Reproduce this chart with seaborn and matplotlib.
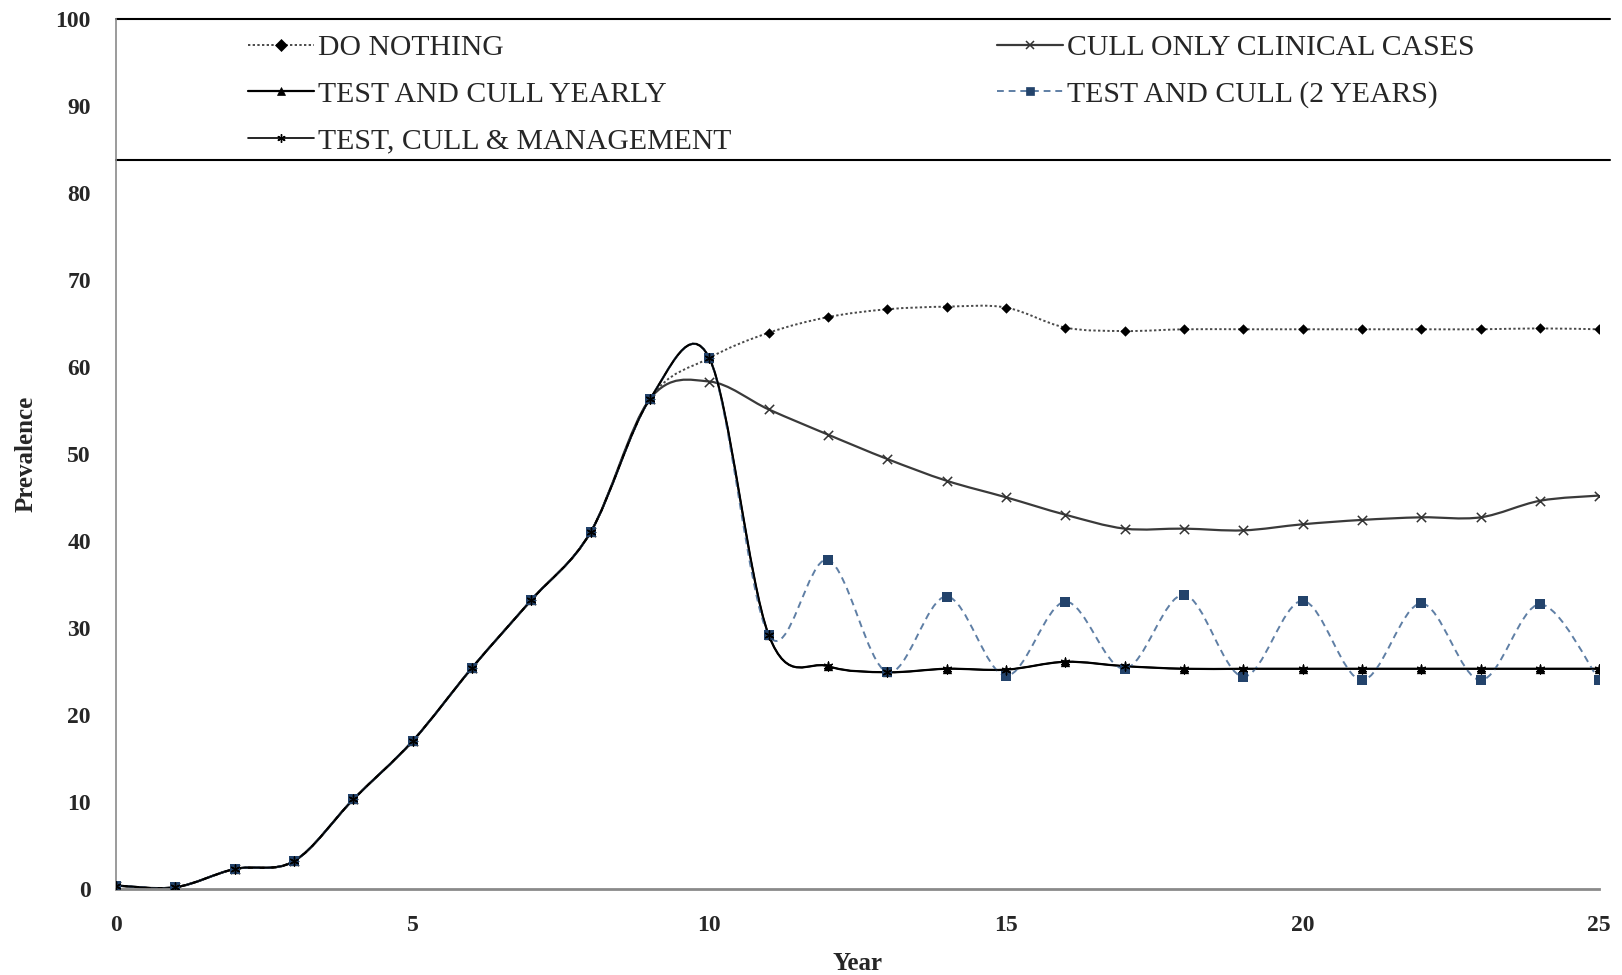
import numpy as np
import pandas as pd
import matplotlib
matplotlib.use("Agg")
import matplotlib.pyplot as plt
from matplotlib.path import Path
from matplotlib.patches import PathPatch
from matplotlib.lines import Line2D
import seaborn as sns

years = list(range(0, 26))
common = [0.4, 0.2, 2.3, 3.2, 10.3, 17.0, 25.4, 33.2, 41.0, 56.3]
do_nothing = common + [61.0, 63.9, 65.7, 66.6, 66.9, 66.8, 64.5, 64.1, 64.3, 64.3,
                       64.3, 64.3, 64.3, 64.3, 64.4, 64.3]
cull_clinical = common + [58.3, 55.1, 52.2, 49.4, 46.9, 45.0, 43.0, 41.4, 41.4, 41.2,
                          41.9, 42.4, 42.7, 42.7, 44.6, 45.2]
cull_yearly = common + [61.0, 29.2, 25.6, 24.9, 25.3, 25.2, 26.1, 25.6, 25.3, 25.3,
                        25.3, 25.3, 25.3, 25.3, 25.3, 25.3]
cull_2years = common + [61.0, 29.2, 37.8, 24.9, 33.6, 24.5, 33.0, 25.3, 33.8, 24.4,
                        33.1, 24.0, 32.8, 24.0, 32.7, 24.0]
cull_mgmt = common + [61.0, 29.2, 25.6, 24.9, 25.3, 25.2, 26.1, 25.6, 25.3, 25.3,
                      25.3, 25.3, 25.3, 25.3, 25.3, 25.3]

labels = ["DO NOTHING", "CULL ONLY CLINICAL CASES", "TEST AND CULL YEARLY",
          "TEST AND CULL (2 YEARS)", "TEST, CULL & MANAGEMENT"]
x_ticks = [0, 5, 10, 15, 20, 25]
y_ticks = list(range(0, 101, 10))

sns.set_theme(style="white")
plt.rcParams["font.family"] = ["Liberation Serif", "DejaVu Serif"]

fig = plt.figure(figsize=(16.22, 9.75), dpi=100)
ax = fig.add_axes([0.0715, 0.0882, 0.9145, 0.8928])

def smooth_path(xs, ys):
    pts = np.column_stack([xs, ys]).astype(float)
    n = len(pts)
    verts = [pts[0]]
    codes = [Path.MOVETO]
    for i in range(n - 1):
        p0 = pts[i - 1] if i > 0 else pts[i]
        p1 = pts[i]
        p2 = pts[i + 1]
        p3 = pts[i + 2] if i + 2 < n else pts[i + 1]
        c1 = p1 + (p2 - p0) / 6.0
        c2 = p2 - (p3 - p1) / 6.0
        verts += [c1, c2, p2]
        codes += [Path.CURVE4] * 3
    return Path(verts, codes)

styles = [
    dict(data=do_nothing, color="#4a4a4a", ls=(0, (1.2, 1.2)), lw=1.4,
         marker="D", mc="black", ms=28, mlw=0),
    dict(data=cull_clinical, color="#3a3a3a", ls="-", lw=1.6,
         marker="x", mc="#333333", ms=45, mlw=1.1),
    dict(data=cull_yearly, color="black", ls="-", lw=1.6,
         marker="^", mc="black", ms=45, mlw=0),
    dict(data=cull_2years, color="#5f7fa5", ls=(0, (3.5, 2.5)), lw=1.4,
         marker="s", mc="#23436b", ms=45, mlw=0),
    dict(data=cull_mgmt, color="black", ls="-", lw=1.2,
         marker=(6, 2, 0), mc="black", ms=40, mlw=1.0),
]

handles = []
for lab, st in zip(labels, styles):
    patch = PathPatch(smooth_path(years, st["data"]), facecolor="none",
                      edgecolor=st["color"], linestyle=st["ls"], lw=st["lw"],
                      transform=ax.transData, zorder=2)
    ax.add_patch(patch)
    df = pd.DataFrame({"Year": years, "Prevalence": st["data"]})
    sns.scatterplot(data=df, x="Year", y="Prevalence", ax=ax, marker=st["marker"],
                    color=st["mc"], s=st["ms"], linewidth=st["mlw"],
                    edgecolor=st["mc"], zorder=3)
    handles.append(Line2D([], [], color=st["color"], linestyle=st["ls"], lw=st["lw"],
                          marker=st["marker"], markersize=6, markerfacecolor=st["mc"],
                          markeredgecolor=st["mc"], markeredgewidth=st["mlw"] if st["mlw"] else 0.5))

ax.set_xlim(0, 25)
ax.set_ylim(0, 100)
ax.set_xticks(x_ticks)
ax.set_yticks(y_ticks)
ax.set_xticklabels([str(v) for v in x_ticks])
ax.set_yticklabels([str(v) for v in y_ticks])
for sp in ["top", "right"]:
    ax.spines[sp].set_visible(False)
for sp in ["left", "bottom"]:
    ax.spines[sp].set_color("#8a8a8a")
ax.spines["left"].set_linewidth(1.2)
ax.spines["bottom"].set_linewidth(2.0)
ax.tick_params(axis="both", direction="out", color="#8a8a8a", width=1.5,
               length=6, labelsize=17)
ax.tick_params(axis="x", pad=13)
ax.tick_params(axis="y", pad=12)
for t in ax.get_xticklabels() + ax.get_yticklabels():
    t.set_fontweight("bold")
ax.set_xlabel("Year", fontsize=18, fontweight="bold", labelpad=11)
ax.set_ylabel("Prevalence", fontsize=18, fontweight="bold", labelpad=13)

# legend box lines
ax.plot([0, 1.0075], [1, 1], transform=ax.transAxes, clip_on=False, color="black", lw=1.5)
ax.plot([0, 1.0075], [0.837, 0.837], transform=ax.transAxes, clip_on=False,
        color="black", lw=1.5)

order = [0, 2, 4, 1, 3]
leg = ax.legend([handles[i] for i in order], [labels[i] for i in order],
                ncol=2, loc="upper left", bbox_to_anchor=(0.153, 0.965),
                bbox_transform=fig.transFigure, frameon=False, fontsize=21.4,
                handlelength=2.2, handletextpad=0.15, columnspacing=8.95,
                labelspacing=0.67, borderpad=0, borderaxespad=0)

fig.savefig("out.png", dpi=100)
